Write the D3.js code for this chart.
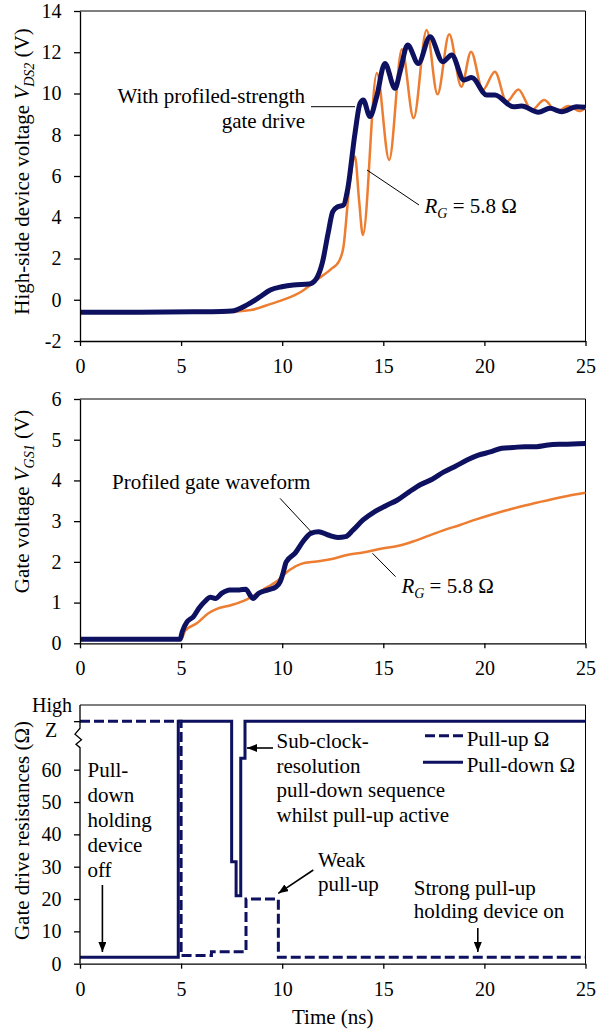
<!DOCTYPE html>
<html><head><meta charset="utf-8">
<script src="https://cdn.jsdelivr.net/npm/d3@7"></script>
<style>
body{margin:0;background:#fff}
svg{display:block}
</style>
</head><body>
<svg id="chart" width="606" height="1032"></svg>
<script>
// ---------- data ----------
const timeTicks = [0, 5, 10, 15, 20, 25];
const vdsTicks = [-2, 0, 2, 4, 6, 8, 10, 12, 14];
const vgsTicks = [0, 1, 2, 3, 4, 5, 6];
const resTicks = [0, 10, 20, 30, 40, 50, 60, 75];

// Panel 1: high-side V_DS2
const vdsProfiledT = [0, 3, 6, 7, 7.5, 8.26, 8.84, 9.41, 9.98, 10.55, 11.32, 11.7, 11.98, 12.27, 12.5, 12.75, 13.03, 13.23, 13.6, 13.85, 14.01, 14.34, 14.67, 15.08, 15.58, 15.83, 16.2, 16.73, 17.31, 17.94, 18.38, 18.99, 19.37, 20.11, 20.52, 21.43, 21.84, 22.67, 23.24, 23.82, 24.56, 25];
const vdsProfiledV = [-0.6, -0.6, -0.58, -0.57, -0.55, -0.25, 0.1, 0.47, 0.63, 0.72, 0.76, 1.04, 1.77, 3.22, 4.27, 4.51, 4.59, 5.32, 8.07, 9.52, 9.68, 8.88, 9.84, 11.46, 10.25, 11.06, 12.35, 11.46, 12.75, 11.54, 11.87, 10.65, 10.77, 9.93, 9.93, 9.36, 9.39, 9.09, 9.28, 9.12, 9.36, 9.33];
const vdsRgT = [0, 3, 6, 7.5, 8.45, 9.41, 10.17, 10.94, 11.7, 12.46, 12.8, 13.03, 13.32, 13.6, 13.8, 13.99, 14.68, 15.29, 15.92, 16.5, 17.14, 17.68, 18.26, 18.86, 19.34, 19.92, 20.52, 21.1, 21.68, 22.34, 22.96, 23.58, 24.15, 24.7, 25];
const vdsRgV = [-0.6, -0.6, -0.6, -0.58, -0.5, -0.21, 0.04, 0.39, 0.96, 1.52, 1.85, 2.57, 5.48, 6.94, 4.84, 3.14, 11.0, 6.78, 12.15, 8.8, 13.08, 9.96, 12.87, 10.33, 12.03, 10.17, 11.06, 9.6, 10.2, 9.2, 9.68, 9.12, 9.39, 9.15, 9.3];

// Panel 2: gate voltage V_GS1
const vgsProfiledT = [0, 4.95, 5.06, 5.3, 5.6, 5.88, 6.16, 6.45, 6.7, 7.02, 7.4, 7.88, 8.2, 8.4, 8.55, 8.84, 9.3, 9.7, 9.9, 10.04, 10.2, 10.65, 11.03, 11.41, 11.8, 12.27, 12.75, 13.13, 13.5, 14.0, 14.56, 15.13, 15.7, 16.28, 16.85, 17.42, 18.0, 18.57, 19.14, 19.7, 20.29, 20.86, 21.43, 22.0, 22.58, 23.15, 23.9, 25];
const vgsProfiledV = [0.1, 0.1, 0.29, 0.53, 0.65, 0.86, 1.02, 1.13, 1.1, 1.23, 1.31, 1.31, 1.33, 1.19, 1.1, 1.23, 1.31, 1.39, 1.51, 1.72, 2.0, 2.22, 2.5, 2.7, 2.74, 2.66, 2.6, 2.62, 2.78, 3.03, 3.23, 3.38, 3.52, 3.72, 3.9, 4.03, 4.21, 4.35, 4.5, 4.62, 4.7, 4.79, 4.81, 4.83, 4.83, 4.87, 4.89, 4.91];
const vgsRgT = [0, 5.0, 5.2, 5.78, 6.35, 6.74, 7.5, 8.26, 9.03, 9.8, 10.36, 10.94, 11.7, 12.46, 13.2, 14.0, 14.94, 15.7, 16.47, 17.23, 18.0, 18.76, 19.52, 20.29, 21.05, 21.8, 22.58, 23.34, 24.1, 25];
const vgsRgV = [0.1, 0.1, 0.31, 0.49, 0.74, 0.84, 0.94, 1.08, 1.31, 1.55, 1.8, 1.95, 2.01, 2.07, 2.17, 2.23, 2.33, 2.39, 2.5, 2.64, 2.78, 2.9, 3.03, 3.15, 3.26, 3.36, 3.45, 3.54, 3.62, 3.7];

// Panel 3: gate drive resistances (75 = "High Z")
const highZ = 75;
const pullDownT = [0, 4.86, 7.5, 7.72, 7.95, 8.16, 25];
const pullDownR = [2, 75, 31.5, 21, 63.5, 75, 75];
const pullUpT = [0, 5.0, 6.5, 8.21, 9.81, 25];
const pullUpR = [75, 2.5, 3.7, 20, 2, 2];

// ---------- drawing ----------
const FONT = "'Liberation Serif', 'Times New Roman', serif";
const NAVY = "#0e1060", ORANGE = "#ed7d31";
const svg = d3.select("#chart");
const X0 = 80, X1 = 585.5;
const x = d3.scaleLinear().domain([0, 25]).range([X0, X1]);

const defs = svg.append("defs");
defs.append("marker").attr("id", "arr").attr("viewBox", "0 0 10 8")
  .attr("refX", 10).attr("refY", 4).attr("markerWidth", 10).attr("markerHeight", 8)
  .attr("markerUnits", "userSpaceOnUse").attr("orient", "auto")
  .append("path").attr("d", "M0,0L10,4L0,8Z").attr("fill", "#000");

function zip(t, v) { return t.map((d, i) => [d, v[i]]); }

function styleAxis(g) {
  g.selectAll("path.domain").attr("stroke", "#000").attr("stroke-width", 1.3);
  g.selectAll(".tick line").attr("stroke", "#000").attr("stroke-width", 1.3);
  g.selectAll(".tick text").attr("font-size", 20).style("font-family", FONT).attr("fill", "#000");
}

function frame(top, bottom) {
  svg.append("path").attr("d", `M${X0},${top}H${X1}V${bottom}`)
    .attr("fill", "none").attr("stroke", "#000").attr("stroke-width", 1);
}

function xAxis(bottom) {
  const g = svg.append("g").attr("transform", `translate(0,${bottom})`)
    .call(d3.axisBottom(x).tickValues(timeTicks).tickSize(5).tickSizeOuter(0).tickPadding(13).tickFormat(d3.format("d")));
  styleAxis(g);
}

function yAxis(y, ticks, fmt) {
  const f = fmt || (d => String(d));
  const g = svg.append("g").attr("transform", `translate(${X0},0)`)
    .call(d3.axisLeft(y).tickValues(ticks).tickSize(6).tickSizeOuter(0).tickPadding(12.5).tickFormat(f));
  styleAxis(g);
  return g;
}

function yTitle(cx, cy, parts) {
  const t = svg.append("text").attr("transform", `translate(${cx},${cy}) rotate(-90)`)
    .attr("text-anchor", "middle").attr("font-size", 21).style("font-family", FONT);
  parts.forEach(p => {
    const s = t.append("tspan").text(p.s);
    if (p.it) s.attr("font-style", "italic");
    if (p.sub) s.attr("font-size", 14).attr("dy", 5);
    if (p.up) s.attr("dy", -5);
  });
}

function line(x1, y1, x2, y2, arrow) {
  const l = svg.append("line").attr("x1", x1).attr("y1", y1).attr("x2", x2).attr("y2", y2)
    .attr("stroke", "#000").attr("stroke-width", arrow ? 1.6 : 1);
  if (arrow) l.attr("marker-end", "url(#arr)");
  return l;
}

function label(xp, yp, str, size) {
  return svg.append("text").attr("x", xp).attr("y", yp).attr("font-size", size || 21)
    .style("font-family", FONT).attr("fill", "#000").text(str);
}

function rgLabel(xp, yp) {
  const t = svg.append("text").attr("x", xp).attr("y", yp).attr("font-size", 21).style("font-family", FONT);
  t.append("tspan").attr("font-style", "italic").text("R");
  t.append("tspan").attr("font-style", "italic").attr("font-size", 14).attr("dy", 5).text("G");
  t.append("tspan").attr("dy", -5).text(" = 5.8 \u03A9");
}

// ----- Panel 1 -----
{
  const top = 11, bottom = 341;
  const y = d3.scaleLinear().domain([-2, 14]).range([bottom, top]);
  frame(top, bottom);
  const ln = d3.line().x(d => x(d[0])).y(d => y(d[1])).curve(d3.curveMonotoneX);
  svg.append("path").datum(zip(vdsRgT, vdsRgV)).attr("d", ln)
    .attr("fill", "none").attr("stroke", ORANGE).attr("stroke-width", 2.5);
  svg.append("path").datum(zip(vdsProfiledT, vdsProfiledV)).attr("d", ln)
    .attr("fill", "none").attr("stroke", NAVY).attr("stroke-width", 5).attr("stroke-linejoin", "round");
  xAxis(bottom);
  yAxis(y, vdsTicks);
  yTitle(28.5, 171.5, [{s: "High-side device voltage "}, {s: "V", it: true}, {s: "DS2", it: true, sub: true}, {s: " (V)", up: true}]);
  label(305, 102.5, "With profiled-strength").attr("text-anchor", "end");
  label(305, 128, "gate drive").attr("text-anchor", "end");
  line(311, 106.7, 355, 106.7);
  line(367, 170, 419, 205);
  rgLabel(424.5, 213);
}

// ----- Panel 2 -----
{
  const top = 399, bottom = 643.3;
  const y = d3.scaleLinear().domain([0, 6]).range([bottom, top]);
  frame(top, bottom);
  const ln = d3.line().x(d => x(d[0])).y(d => y(d[1])).curve(d3.curveMonotoneX);
  svg.append("path").datum(zip(vgsRgT, vgsRgV)).attr("d", ln)
    .attr("fill", "none").attr("stroke", ORANGE).attr("stroke-width", 2.5);
  svg.append("path").datum(zip(vgsProfiledT, vgsProfiledV)).attr("d", ln)
    .attr("fill", "none").attr("stroke", NAVY).attr("stroke-width", 5).attr("stroke-linejoin", "round");
  xAxis(bottom);
  yAxis(y, vgsTicks);
  yTitle(28.5, 501.5, [{s: "Gate voltage "}, {s: "V", it: true}, {s: "GS1", it: true, sub: true}, {s: " (V)", up: true}]);
  label(112, 489, "Profiled gate waveform");
  line(280, 498.3, 312, 532.7);
  line(372.5, 553.3, 395.6, 576.7);
  rgLabel(401.4, 593.3);
}

// ----- Panel 3 -----
{
  const top = 705, bottom = 963.7;
  const y = d3.scaleLinear().domain([0, 80]).range([bottom, top]);
  frame(top, bottom);
  const st = d3.line().x(d => x(d[0])).y(d => y(d[1])).curve(d3.curveStepAfter);
  svg.append("path").datum(zip(pullDownT, pullDownR)).attr("d", st)
    .attr("fill", "none").attr("stroke", NAVY).attr("stroke-width", 3);
  svg.append("path").datum(zip(pullUpT, pullUpR)).attr("d", st)
    .attr("fill", "none").attr("stroke", NAVY).attr("stroke-width", 3).attr("stroke-dasharray", "10,4");
  xAxis(bottom);
  const g = yAxis(y, resTicks, d => d === highZ ? "" : String(d));
  g.select("path.domain").remove();
  const zy = y(highZ);
  svg.append("path")
    .attr("d", `M${X0},${top}V${zy + 7}L${X0 - 5},${zy + 13}L${X0 + 1.5},${zy + 18.5}L${X0 - 4},${zy + 23}L${X0},${zy + 26.5}V${bottom}`)
    .attr("fill", "none").attr("stroke", "#000").attr("stroke-width", 1.3);
  label(52, zy - 9.5, "High", 20).attr("text-anchor", "middle");
  label(51, zy + 15.5, "Z", 20).attr("text-anchor", "middle");
  yTitle(28.5, 830.5, [{s: "Gate drive resistances (\u03A9)"}]);
  label(x(12.5), 1024, "Time (ns)").attr("text-anchor", "middle");

  // legend
  line(425, 735.7, 463, 735.7).attr("stroke", NAVY).attr("stroke-width", 3).attr("stroke-dasharray", "10,4");
  line(423, 762.3, 463, 762.3).attr("stroke", NAVY).attr("stroke-width", 3);
  label(466.7, 745.5, "Pull-up \u03A9");
  label(466.7, 772, "Pull-down \u03A9");

  // annotations
  ["Pull-", "down", "holding", "device", "off"].forEach((s, i) => label(87.5, 777 + i * 25, s));
  line(102.4, 885, 102.4, 952, true);
  ["Sub-clock-", "resolution", "pull-down sequence", "whilst pull-up active"].forEach((s, i) => label(276.5, 748 + i * 24.6, s));
  line(273, 748, 247, 748, true);
  label(318, 867, "Weak");
  label(318, 890.5, "pull-up");
  line(313.3, 870, 278.3, 893.3, true);
  label(413.8, 895, "Strong pull-up");
  label(413.8, 918.3, "holding device on");
  line(477.8, 928, 477.8, 952, true);
}
</script>
</body></html>
